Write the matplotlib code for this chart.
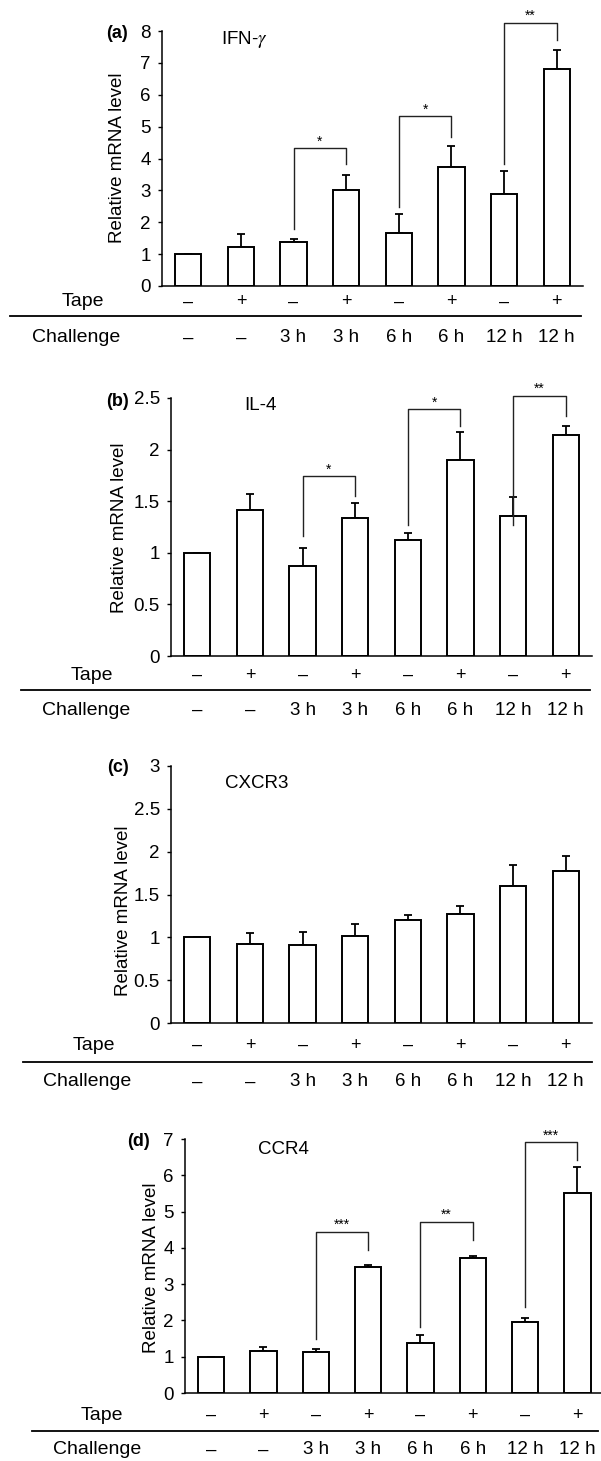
import matplotlib
matplotlib.use("Agg")
import matplotlib.pyplot as plt
from matplotlib import transforms
from matplotlib.lines import Line2D
from matplotlib.ticker import FuncFormatter

plt.rcParams['font.family'] = ['Liberation Sans', 'DejaVu Sans']
plt.rcParams['mathtext.fontset'] = 'stix'

# ---------------- data ----------------
panel_letters = ["(a)", "(b)", "(c)", "(d)"]
genes = ["IFN-$\\gamma$", "IL-4", "CXCR3", "CCR4"]
tape = ["\u2013", "+", "\u2013", "+", "\u2013", "+", "\u2013", "+"]
challenge = ["\u2013", "\u2013", "3 h", "3 h", "6 h", "6 h", "12 h", "12 h"]

ifng_mean = [1.0, 1.23, 1.38, 3.02, 1.66, 3.74, 2.89, 6.81]
ifng_err = [0.0, 0.40, 0.09, 0.47, 0.59, 0.64, 0.71, 0.60]
il4_mean = [1.0, 1.41, 0.87, 1.34, 1.12, 1.90, 1.36, 2.14]
il4_err = [0.0, 0.16, 0.18, 0.14, 0.07, 0.27, 0.18, 0.09]
cxcr3_mean = [1.0, 0.92, 0.91, 1.02, 1.20, 1.27, 1.60, 1.78]
cxcr3_err = [0.0, 0.13, 0.15, 0.13, 0.06, 0.10, 0.24, 0.17]
ccr4_mean = [1.0, 1.17, 1.14, 3.46, 1.39, 3.71, 1.95, 5.51]
ccr4_err = [0.0, 0.10, 0.07, 0.08, 0.21, 0.06, 0.13, 0.71]

# significance brackets: (left bar, right bar, left foot, top, right foot, label)
ifng_brackets = [(2, 3, 1.78, 4.32, 3.83, "*"), (4, 5, 2.49, 5.33, 4.66, "*"),
                 (6, 7, 3.83, 8.26, 7.72, "**")]
il4_brackets = [(2, 3, 1.16, 1.74, 1.55, "*"), (4, 5, 1.27, 2.39, 2.23, "*"),
                (6, 7, 1.27, 2.52, 2.33, "**")]
cxcr3_brackets = []
ccr4_brackets = [(2, 3, 1.49, 4.44, 3.94, "***"), (4, 5, 1.83, 4.72, 4.22, "**"),
                 (6, 7, 2.38, 6.91, 6.42, "***")]

ymax = [8, 2.5, 3, 7]
ystep = [1, 0.5, 0.5, 1]

means = [ifng_mean, il4_mean, cxcr3_mean, ccr4_mean]
errs = [ifng_err, il4_err, cxcr3_err, ccr4_err]
brackets = [ifng_brackets, il4_brackets, cxcr3_brackets, ccr4_brackets]

# ---------------- layout (pixels) ----------------
W, H = 601, 1461
fig = plt.figure(figsize=(W / 100, H / 100), dpi=100)

# left, right, top, bottom of axes; xlim right
axes_px = [(162, 583, 31, 286, 7.5), (171, 592, 398, 656, 7.5),
           (171, 592, 766, 1023, 7.5), (185, 601, 1139, 1393, 7.45)]
text_px = [
    dict(letter=(128, 33), gene=(221, 40), ylab=(118, 158), tape_y=302, sep_y=316, sep_x=(10, 581), chal_y=338, tape_x=104, chal_x=32),
    dict(letter=(129, 402), gene=(244, 405), ylab=(119, 528), tape_y=675, sep_y=690, sep_x=(21, 590), chal_y=710, tape_x=113, chal_x=42),
    dict(letter=(129, 768), gene=(225, 783), ylab=(123, 911), tape_y=1045, sep_y=1062, sep_x=(23, 592), chal_y=1082, tape_x=115, chal_x=43),
    dict(letter=(150, 1142), gene=(258, 1150), ylab=(152, 1268), tape_y=1415, sep_y=1431, sep_x=(32, 598), chal_y=1450, tape_x=123, chal_x=53),
]

def fx(px):
    return px / W

def fy(py):
    return 1 - py / H

fmt = FuncFormatter(lambda v, p: f"{v:g}")
x = list(range(8))

for i in range(4):
    l, r, t, b, xr = axes_px[i]
    ax = fig.add_axes([fx(l), fy(b), fx(r - l), (b - t) / H])
    ax.bar(x, means[i], width=0.5, color="white", edgecolor="black", linewidth=1.4, zorder=2)
    ax.errorbar(x, means[i], yerr=[[0] * 8, errs[i]], fmt="none", ecolor="black",
                elinewidth=1.3, capsize=3, capthick=1.3, zorder=1)
    ax.set_xlim(-0.5, xr)
    ax.set_ylim(0, ymax[i])
    n = int(round(ymax[i] / ystep[i]))
    ax.set_yticks([k * ystep[i] for k in range(n + 1)])
    ax.yaxis.set_major_formatter(fmt)
    ax.set_xticks([])
    for s in ["top", "right"]:
        ax.spines[s].set_visible(False)
    ax.spines["left"].set_linewidth(1.1)
    ax.spines["bottom"].set_linewidth(1.1)
    ax.tick_params(axis="y", length=3, width=1.0, pad=5, labelsize=13.5)
    ax.patch.set_alpha(0)

    for (a, bb, lf, top, rf, lab) in brackets[i]:
        ax.plot([a, a, bb, bb], [lf, top, top, rf], color="#222222", lw=1.0, clip_on=False)
        ax.annotate(lab, xy=((a + bb) / 2, top), xytext=(0, 2), textcoords="offset points",
                    ha="center", va="baseline", fontsize=10, annotation_clip=False)

    tp = text_px[i]
    fig.text(fx(tp["letter"][0]), fy(tp["letter"][1]), panel_letters[i], ha="right", va="center",
             fontsize=13, fontweight="bold")
    fig.text(fx(tp["gene"][0]), fy(tp["gene"][1]), genes[i], ha="left", va="center", fontsize=13.5)
    fig.text(fx(tp["ylab"][0]), fy(tp["ylab"][1]), "Relative mRNA level", rotation=90,
             ha="center", va="center", fontsize=13.5)

    trans = transforms.blended_transform_factory(ax.transData, fig.transFigure)
    for k in range(8):
        ax.text(x[k], fy(tp["tape_y"]), tape[k], transform=trans, ha="center", va="center",
                fontsize=13, clip_on=False)
        ax.text(x[k], fy(tp["chal_y"]), challenge[k], transform=trans, ha="center", va="center",
                fontsize=13.5, clip_on=False)
    fig.text(fx(tp["tape_x"]), fy(tp["tape_y"]), "Tape", ha="right", va="center", fontsize=14)
    fig.text(fx(tp["chal_x"]), fy(tp["chal_y"]), "Challenge", ha="left", va="center", fontsize=14)
    fig.add_artist(Line2D([fx(tp["sep_x"][0]), fx(tp["sep_x"][1])], [fy(tp["sep_y"])] * 2,
                          color="black", lw=1.3))

fig.savefig("out.png", dpi=100)
